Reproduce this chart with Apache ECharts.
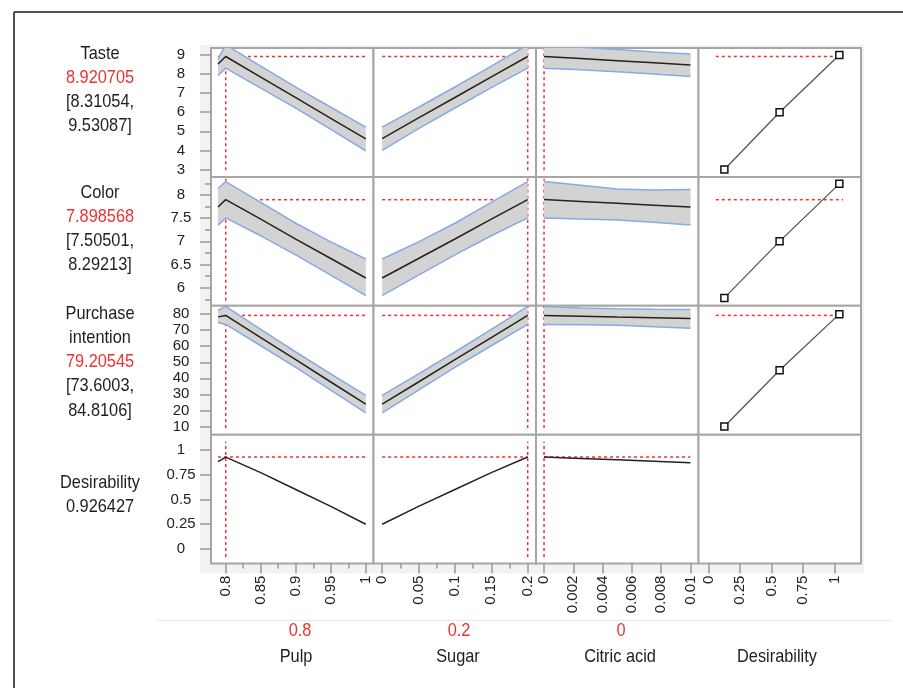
<!DOCTYPE html>
<html>
<head>
<meta charset="utf-8">
<title>Prediction profiler</title>
<script src="https://cdn.jsdelivr.net/npm/echarts@6/dist/echarts.min.js"></script>
<style>
html, body { margin: 0; padding: 0; background: #fff; }
#chart { width: 903px; height: 688px; }
</style>
</head>
<body>
<div id="chart"></div>
<script>
var factors = ['Pulp', 'Sugar', 'Citric acid', 'Desirability'];
var factorCurrent = [0.8, 0.2, 0];
var factorCurrentText = ['0.8', '0.2', '0'];

var responseLines = [
    ['Taste'],
    ['Color'],
    ['Purchase', 'intention'],
    ['Desirability']
];
var predicted = [8.920705, 7.898568, 79.20545, 0.926427];
var predictedText = ['8.920705', '7.898568', '79.20545', '0.926427'];
var ciText = [['[8.31054,', '9.53087]'], ['[7.50501,', '8.29213]'], ['[73.6003,', '84.8106]'], []];

// axis extents and ticks
var xMin = [0.779, -0.0119, -0.00055, -0.0789];
var xMax = [1.011, 0.2114, 0.01055, 1.2076];
var yMin = [2.61, 5.61, 4.85, -0.146];
var yMax = [9.365, 8.39, 85.2, 1.151];
var xTicks = [[0.8, 0.85, 0.9, 0.95, 1], [0, 0.05, 0.1, 0.15, 0.2], [0, 0.002, 0.004, 0.006, 0.008, 0.01], [0, 0.25, 0.5, 0.75, 1]];
var xMinorTicks = [[0.825, 0.875, 0.925, 0.975], [0.025, 0.075, 0.125, 0.175], [], []];
var yTicks = [[3, 4, 5, 6, 7, 8, 9], [6, 6.5, 7, 7.5, 8], [10, 20, 30, 40, 50, 60, 70, 80], [0, 0.25, 0.5, 0.75, 1]];
var yMinorTicks = [[], [5.75, 6.25, 6.75, 7.25, 7.75, 8.25], [], []];

// profile traces
var pulpX = [0.789, 0.8, 0.85, 0.9, 0.95, 1];
var sugarX = [0, 0.05, 0.1, 0.15, 0.2];
var citricX = [0, 0.0025, 0.005, 0.0075, 0.01];

var tastePulp     = [8.53, 8.92, 7.84, 6.76, 5.68, 4.60];
var tastePulpLo   = [7.92, 8.31, 7.26, 6.21, 5.10, 3.98];
var tastePulpHi   = [8.79, 9.53, 8.42, 7.31, 6.26, 5.22];
var tasteSugar    = [4.62, 5.70, 6.77, 7.85, 8.92];
var tasteSugarLo  = [4.00, 5.14, 6.22, 7.29, 8.31];
var tasteSugarHi  = [5.22, 6.26, 7.32, 8.41, 9.53];
var tasteCitric   = [8.92, 8.81, 8.70, 8.59, 8.48];
var tasteCitricLo = [8.31, 8.23, 8.12, 8.00, 7.87];
var tasteCitricHi = [9.53, 9.40, 9.28, 9.16, 9.05];

var colorPulp     = [7.74, 7.90, 7.48, 7.05, 6.63, 6.21];
var colorPulpLo   = [7.35, 7.505, 7.12, 6.71, 6.27, 5.83];
var colorPulpHi   = [8.14, 8.29, 7.84, 7.39, 6.99, 6.62];
var colorSugar    = [6.21, 6.63, 7.05, 7.48, 7.90];
var colorSugarLo  = [5.83, 6.27, 6.71, 7.12, 7.505];
var colorSugarHi  = [6.62, 6.99, 7.39, 7.84, 8.29];
var colorCitric   = [7.90, 7.86, 7.82, 7.78, 7.74];
var colorCitricLo = [7.505, 7.48, 7.46, 7.41, 7.35];
var colorCitricHi = [8.29, 8.21, 8.13, 8.11, 8.12];

var purchPulp     = [78.3, 79.2, 65.4, 51.6, 37.7, 23.9];
var purchPulpLo   = [74.8, 73.6, 60.3, 46.8, 32.6, 18.4];
var purchPulpHi   = [82.4, 84.8, 70.5, 56.4, 42.8, 29.4];
var purchSugar    = [23.9, 37.7, 51.6, 65.4, 79.2];
var purchSugarLo  = [18.4, 32.6, 46.8, 60.3, 73.6];
var purchSugarHi  = [29.4, 42.8, 56.4, 70.5, 84.8];
var purchCitric   = [79.2, 78.7, 78.2, 77.8, 77.3];
var purchCitricLo = [73.6, 73.4, 73.0, 72.2, 71.2];
var purchCitricHi = [84.8, 83.9, 83.3, 83.0, 82.9];

var desPulp   = [0.88, 0.926, 0.77, 0.60, 0.43, 0.25];
var desSugar  = [0.25, 0.43, 0.60, 0.77, 0.926];
var desCitric = [0.926, 0.912, 0.898, 0.884, 0.87];

// desirability functions (last column)
var desirX     = [0.126, 0.563, 1.036];
var tasteDesir = [3, 6, 9];
var colorDesir = [5.78, 7.0, 8.24];
var purchDesir = [10, 45, 80];

// red reference line extents
var hSpan = [[0.789, 1], [0, 0.2], [0, 0.01], [0.058, 1.065]];
var vSpan = [[2.96, 9.3], [5.72, 8.35], [9, 85], [-0.08, 1.08]];

var factorX = [pulpX, sugarX, citricX];
var means = [[tastePulp, tasteSugar, tasteCitric], [colorPulp, colorSugar, colorCitric], [purchPulp, purchSugar, purchCitric], [desPulp, desSugar, desCitric]];
var lows = [[tastePulpLo, tasteSugarLo, tasteCitricLo], [colorPulpLo, colorSugarLo, colorCitricLo], [purchPulpLo, purchSugarLo, purchCitricLo]];
var highs = [[tastePulpHi, tasteSugarHi, tasteCitricHi], [colorPulpHi, colorSugarHi, colorCitricHi], [purchPulpHi, purchSugarHi, purchCitricHi]];
var desirFuncs = [tasteDesir, colorDesir, purchDesir];

// ---- layout ----
var colLeft = 211, colW = 162.5;
var rowTop = 48, rowH = 128.9;

// the labels in the picture use a condensed face; squeeze Liberation Sans to match
var labelFont = 'Liberation Sans';
var labelSize = 19;
var labelSqueeze = 0.86;
var tickFont = 'Liberation Sans';

var RED = '#ec3232';
var redLine = { color: RED, width: 1.5, type: [3, 3] };
var tickStyle = { color: '#999', width: 1.5 };

function zip(xs, ys) {
    return xs.map(function (x, i) { return [x, ys[i]]; });
}

var grids = [], xAxes = [], yAxes = [], series = [];

for (var r = 0; r < 4; r++) {
    for (var c = 0; c < 4; c++) {
        var g = r * 4 + c;
        grids.push({
            left: colLeft + c * colW, top: rowTop + r * rowH,
            width: colW, height: rowH,
            show: true, backgroundColor: '#fff',
            borderColor: '#a6a6a6', borderWidth: 2
        });
        xAxes.push({
            type: 'value', gridIndex: g, position: 'bottom', min: xMin[c], max: xMax[c],
            axisLine: { show: false, onZero: false }, splitLine: { show: false },
            axisTick: { show: r === 3, customValues: xTicks[c], length: 10, lineStyle: tickStyle },
            axisLabel: {
                show: r === 3, customValues: xTicks[c], rotate: 90, margin: 12,
                fontSize: 15, fontFamily: tickFont, color: '#222'
            }
        });
        yAxes.push({
            type: 'value', gridIndex: g, position: 'left', min: yMin[r], max: yMax[r],
            axisLine: { show: false, onZero: false }, splitLine: { show: false },
            axisTick: { show: c === 0, customValues: yTicks[r], length: 11, lineStyle: tickStyle },
            axisLabel: {
                show: c === 0, customValues: yTicks[r], align: 'center', margin: 30,
                fontSize: 15, fontFamily: tickFont, color: '#222'
            }
        });
    }
}

// shorter minor ticks on their own axes
[0, 1].forEach(function (c) {
    xAxes.push({
        type: 'value', gridIndex: 12 + c, position: 'bottom', min: xMin[c], max: xMax[c],
        axisLine: { show: false, onZero: false }, splitLine: { show: false }, axisLabel: { show: false },
        axisTick: { show: true, customValues: xMinorTicks[c], length: 5, lineStyle: tickStyle }
    });
});
yAxes.push({
    type: 'value', gridIndex: 4, position: 'left', min: yMin[1], max: yMax[1],
    axisLine: { show: false, onZero: false }, splitLine: { show: false }, axisLabel: { show: false },
    axisTick: { show: true, customValues: yMinorTicks[1], length: 6, lineStyle: tickStyle }
});

function bandSeries(g, xs, lo, hi) {
    return {
        type: 'custom', xAxisIndex: g, yAxisIndex: g, clip: true, z: 2, silent: true,
        data: xs.map(function (x, i) { return [x, lo[i], hi[i]]; }),
        encode: { x: 0, y: [1, 2] },
        renderItem: function (params, api) {
            if (params.dataIndex !== 0) return;
            var pts = [];
            for (var i = 0; i < xs.length; i++) pts.push(api.coord([xs[i], hi[i]]));
            for (var j = xs.length - 1; j >= 0; j--) pts.push(api.coord([xs[j], lo[j]]));
            return { type: 'polygon', shape: { points: pts }, style: { fill: '#d3d3d3' } };
        }
    };
}

function lineSeries(g, data, style, z) {
    return {
        type: 'line', xAxisIndex: g, yAxisIndex: g, data: data, z: z,
        symbol: 'none', silent: true, lineStyle: style
    };
}

for (var r2 = 0; r2 < 4; r2++) {
    for (var c2 = 0; c2 < 3; c2++) {
        var g2 = r2 * 4 + c2;
        var xs = factorX[c2];
        series.push(lineSeries(g2, [[hSpan[c2][0], predicted[r2]], [hSpan[c2][1], predicted[r2]]], redLine, 1));
        series.push(lineSeries(g2, [[factorCurrent[c2], vSpan[r2][0]], [factorCurrent[c2], vSpan[r2][1]]], redLine, 1));
        if (r2 < 3) {
            series.push(bandSeries(g2, xs, lows[r2][c2], highs[r2][c2]));
            series.push(lineSeries(g2, zip(xs, lows[r2][c2]), { color: '#86aae3', width: 1.5 }, 3));
            series.push(lineSeries(g2, zip(xs, highs[r2][c2]), { color: '#86aae3', width: 1.5 }, 3));
        }
        series.push(lineSeries(g2, zip(xs, means[r2][c2]), { color: '#222', width: 1.5 }, 4));
    }
    if (r2 < 3) {
        var g3 = r2 * 4 + 3;
        series.push(lineSeries(g3, [[hSpan[3][0], predicted[r2]], [hSpan[3][1], predicted[r2]]], redLine, 1));
        series.push({
            type: 'line', xAxisIndex: g3, yAxisIndex: g3, z: 4, silent: true,
            data: zip(desirX, desirFuncs[r2]),
            symbol: 'rect', symbolSize: 7, showAllSymbol: true,
            lineStyle: { color: '#555', width: 1.3 },
            itemStyle: { color: '#fff', borderColor: '#111', borderWidth: 1.5 }
        });
    }
}

// ---- text and frame ----
var graphics = [
    { type: 'rect', z: -10, shape: { x: 200, y: 45, width: 664, height: 528.5 }, style: { fill: '#f2f2f2' } },
    { type: 'line', z: -10, shape: { x1: 157, y1: 620.5, x2: 892, y2: 620.5 }, style: { stroke: '#ececec', lineWidth: 1.5 } },
    { type: 'line', shape: { x1: 14, y1: 12, x2: 903, y2: 12 }, style: { stroke: '#505050', lineWidth: 2 } },
    { type: 'line', shape: { x1: 14, y1: 12, x2: 14, y2: 688 }, style: { stroke: '#505050', lineWidth: 2 } }
];

function addText(txt, x, y, color) {
    graphics.push({
        type: 'text', x: x, y: y, scaleX: labelSqueeze,
        style: {
            text: txt, fill: color, fontSize: labelSize, fontFamily: labelFont,
            align: 'center', verticalAlign: 'middle'
        }
    });
}

var blockTop = [53.3, 192.3, 313.3, 482.3];
var lineGap = 24.3;
responseLines.forEach(function (lines, i) {
    var y = blockTop[i];
    lines.forEach(function (t) { addText(t, 100, y, '#1e1e1e'); y += lineGap; });
    addText(predictedText[i], 100, y, i < 3 ? RED : '#1e1e1e');
    y += lineGap;
    ciText[i].forEach(function (t) { addText(t, 100, y, '#1e1e1e'); y += lineGap; });
});

var bottomValueX = [300, 459, 621];
var bottomNameX = [296, 458, 620, 777];
factorCurrentText.forEach(function (t, i) { addText(t, bottomValueX[i], 631, RED); });
factors.forEach(function (t, i) { addText(t, bottomNameX[i], 657, '#1e1e1e'); });

var chart = echarts.init(document.getElementById('chart'));
chart.setOption({
    animation: false,
    backgroundColor: '#fff',
    grid: grids,
    xAxis: xAxes,
    yAxis: yAxes,
    series: series,
    graphic: { elements: graphics }
});
</script>
</body>
</html>
